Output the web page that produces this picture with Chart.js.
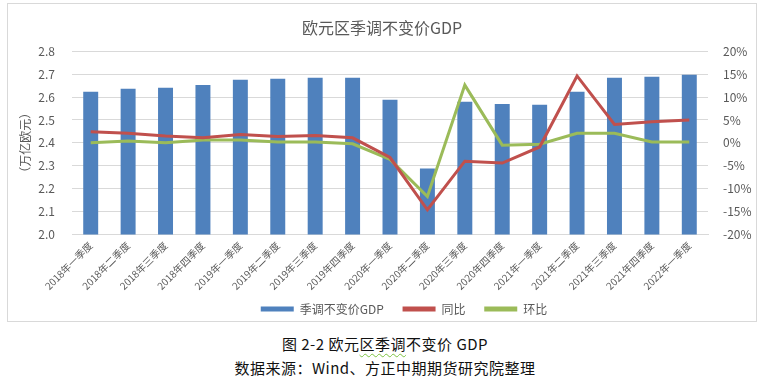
<!DOCTYPE html>
<html><head><meta charset="utf-8">
<script src="https://cdn.jsdelivr.net/npm/chart.js@4/dist/chart.umd.min.js"></script>
<style>
html,body{margin:0;padding:0;background:#fff;}
body{width:770px;height:382px;position:relative;overflow:hidden;font-family:"Noto Sans CJK SC",sans-serif;}
#box{position:absolute;left:7px;top:3px;width:750px;height:319px;border:1px solid #d9d9d9;box-sizing:border-box;}
#c{position:absolute;left:0;top:0;}
.cap{position:absolute;left:0;width:770px;text-align:center;color:#111;font-size:15px;letter-spacing:0.5px;}
.wavy{text-decoration:underline wavy #7cc242;text-underline-offset:3px;text-decoration-thickness:1px;}
</style></head><body>
<div id="box"><canvas id="c" width="748" height="317"></canvas></div>
<div class="cap" style="top:333px;">图 2-2 欧元<span class="wavy">区季调</span>不变价 GDP</div>
<div class="cap" style="top:357px;">数据来源：Wind、方正中期期货研究院整理</div>
<script>
const categories = ["2018年一季度","2018年二季度","2018年三季度","2018年四季度","2019年一季度","2019年二季度","2019年三季度","2019年四季度","2020年一季度","2020年二季度","2020年三季度","2020年四季度","2021年一季度","2021年二季度","2021年三季度","2021年四季度","2022年一季度"];
const gdp = [2.623,2.636,2.640,2.653,2.675,2.680,2.684,2.684,2.588,2.288,2.579,2.570,2.566,2.623,2.684,2.688,2.697];
const yoy = [2.4,2.1,1.5,1.1,1.8,1.4,1.6,1.1,-3.2,-14.6,-4.0,-4.4,-0.9,14.6,4.0,4.6,5.0];
const qoq = [0.0,0.4,0.0,0.6,0.6,0.2,0.2,-0.2,-3.6,-11.7,12.6,-0.5,-0.3,2.1,2.1,0.2,0.2];
const leftTicks = [2.0,2.1,2.2,2.3,2.4,2.5,2.6,2.7,2.8];
const rightTicks = [-20,-15,-10,-5,0,5,10,15,20];

const gray = '#595959';
const fam = '"Noto Sans CJK SC", sans-serif';
const legendShift = {
  id:'legendShift',
  afterLayout(chart){ if(chart.legend){ chart.legend.left += 22; chart.legend.right += 22; } }
};
new Chart(document.getElementById('c'), {
  plugins:[legendShift],
  data: {
    labels: categories,
    datasets: [
      {type:'bar', label:'季调不变价GDP', data:gdp, yAxisID:'y', backgroundColor:'#4f81bd', barPercentage:0.4, categoryPercentage:1.0, order:3},
      {type:'line', label:'同比', data:yoy, yAxisID:'y1', borderColor:'#c0504d', backgroundColor:'#c0504d', borderWidth:3, pointRadius:0, tension:0, order:1},
      {type:'line', label:'环比', data:qoq, yAxisID:'y1', borderColor:'#9bbb59', backgroundColor:'#9bbb59', borderWidth:3, pointRadius:0, tension:0, order:2}
    ]
  },
  options: {
    responsive:false, animation:false,
    layout:{padding:{left:0,right:0,top:0,bottom:-4}},
    plugins:{
      title:{display:true, text:'欧元区季调不变价GDP', color:gray, font:{family:fam,size:16,weight:'normal'}, padding:{top:14,bottom:14}},
      legend:{position:'bottom',
        labels:{color:gray, font:{family:fam,size:12}, boxWidth:33, boxHeight:5, padding:4,
          generateLabels:(chart)=>{
            const items = Chart.defaults.plugins.legend.labels.generateLabels(chart);
            items.sort((a,b)=>a.datasetIndex-b.datasetIndex);
            items.forEach((it,i)=>{
              if(i<items.length-1) it.text = it.text + '\u3000 ';
              it.lineWidth=0; it.strokeStyle='rgba(0,0,0,0)';
            });
            return items;
          }}},
      tooltip:{enabled:false}
    },
    scales:{
      x:{grid:{display:false, drawTicks:false}, border:{color:'#d9d9d9'},
         ticks:{color:gray, font:{family:fam,size:10}, minRotation:45, maxRotation:45, padding:5, autoSkip:false},
         afterFit:s=>{s.height = s.height + 2;}},
      y:{position:'left', min:2.0, max:2.8, afterBuildTicks:s=>{s.ticks=leftTicks.map(v=>({value:v}));},
         grid:{color:'#d9d9d9', drawTicks:false}, border:{display:false},
         ticks:{color:gray, font:{family:fam,size:12}, padding:17, callback:v=>v.toFixed(1)},
         title:{display:true, text:'（万亿欧元）', color:gray, font:{family:fam,size:12}, padding:{top:10,bottom:0}},
         afterFit:s=>{s.width=64;}},
      y1:{position:'right', min:-20, max:20, afterBuildTicks:s=>{s.ticks=rightTicks.map(v=>({value:v}));},
         grid:{display:false, drawTicks:false}, border:{display:false},
         ticks:{color:gray, font:{family:fam,size:12}, padding:15, callback:v=>v+'%'},
         afterFit:s=>{s.width=48;}}
    }
  }
});
</script>
</body></html>
